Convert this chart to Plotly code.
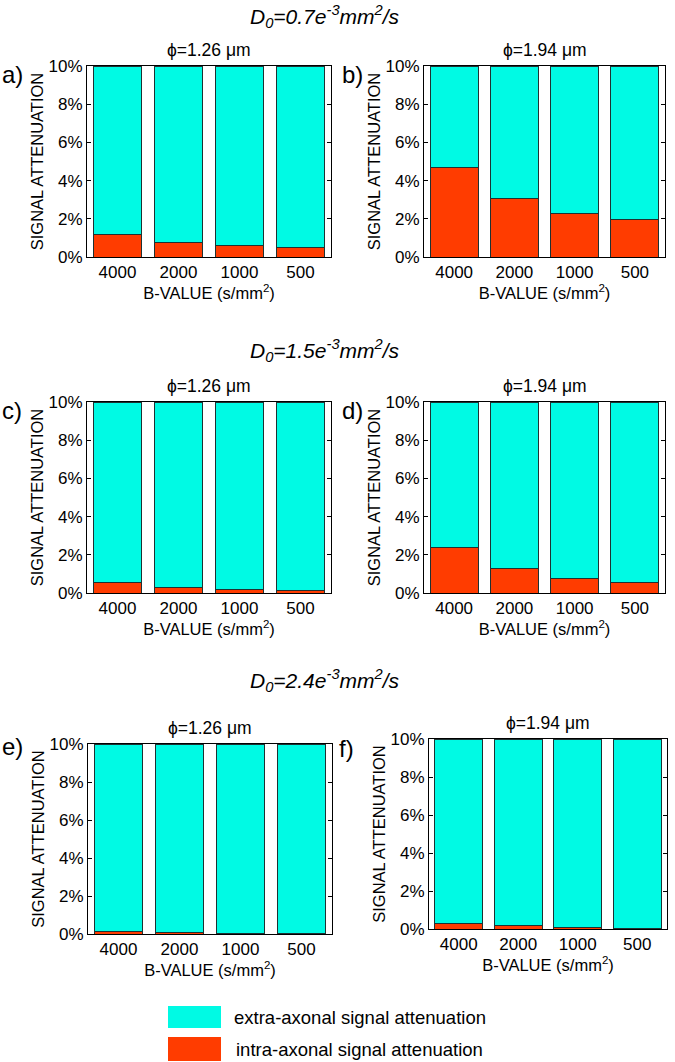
import plotly.graph_objects as go
from plotly.subplots import make_subplots

# b-values on the x axis
b_values = ["4000", "2000", "1000", "500"]

# intra-axonal part (red), % of signal
intra_a = [1.19, 0.77, 0.59, 0.51]
intra_b = [4.70, 3.04, 2.27, 1.95]
intra_c = [0.55, 0.29, 0.17, 0.14]
intra_d = [2.38, 1.27, 0.75, 0.55]
intra_e = [0.12, 0.06, 0.02, 0.01]
intra_f = [0.31, 0.16, 0.07, 0.03]

# extra-axonal part (cyan) visible up to the 10% ceiling
extra_a = [8.81, 9.23, 9.41, 9.49]
extra_b = [5.30, 6.96, 7.73, 8.05]
extra_c = [9.45, 9.71, 9.83, 9.86]
extra_d = [7.62, 8.73, 9.25, 9.45]
extra_e = [9.88, 9.94, 9.98, 9.99]
extra_f = [9.69, 9.84, 9.93, 9.97]

diameters = ["ϕ=1.26 μm", "ϕ=1.94 μm"]
d0_titles = [
    "<i>D<sub>0</sub>=0.7e<sup>-3</sup>mm<sup>2</sup>/s</i>",
    "<i>D<sub>0</sub>=1.5e<sup>-3</sup>mm<sup>2</sup>/s</i>",
    "<i>D<sub>0</sub>=2.4e<sup>-3</sup>mm<sup>2</sup>/s</i>",
]
panel_letters = ["a)", "b)", "c)", "d)", "e)", "f)"]

CYAN = "rgb(0,250,228)"
RED = "rgb(255,60,0)"
EDGE = "rgb(30,50,50)"
FONT = "Arial, Liberation Sans, sans-serif"

W, H = 675, 1062

# pixel boxes of each plot area: (left, right, top, bottom)
boxes = [
    (87, 331, 66, 257),
    (424, 665, 66, 257),
    (87, 331, 402, 593),
    (424, 665, 402, 593),
    (88, 332, 744, 934),
    (429, 667, 739, 929),
]

panels = [
    (intra_a, extra_a),
    (intra_b, extra_b),
    (intra_c, extra_c),
    (intra_d, extra_d),
    (intra_e, extra_e),
    (intra_f, extra_f),
]

fig = make_subplots(rows=3, cols=2)

for i, (intra, extra) in enumerate(panels):
    row, col = i // 2 + 1, i % 2 + 1
    fig.add_trace(
        go.Bar(
            x=b_values,
            y=intra,
            marker=dict(color=RED, line=dict(color=EDGE, width=1)),
            showlegend=False,
        ),
        row=row,
        col=col,
    )
    fig.add_trace(
        go.Bar(
            x=b_values,
            y=extra,
            marker=dict(color=CYAN, line=dict(color=EDGE, width=1)),
            showlegend=False,
        ),
        row=row,
        col=col,
    )

tick_font = dict(family=FONT, size=17, color="black")
title_font = dict(family=FONT, size=16.5, color="black")

for i, (l, r, t, b) in enumerate(boxes):
    suffix = "" if i == 0 else str(i + 1)
    fig.update_layout(
        {
            "xaxis" + suffix: dict(
                domain=[l / W, r / W],
                range=[-0.5, 3.5],
                showline=True,
                linecolor="black",
                linewidth=1,
                mirror=True,
                ticks="",
                tickfont=tick_font,
                title=dict(text="B-VALUE (s/mm<sup>2</sup>)", font=title_font, standoff=0),
                automargin=False,
            ),
            "yaxis" + suffix: dict(
                domain=[1 - b / H, 1 - t / H],
                range=[0, 10],
                tick0=0,
                dtick=2,
                ticksuffix="%",
                showline=True,
                linecolor="black",
                linewidth=1,
                mirror="allticks",
                ticks="inside",
                ticklen=4,
                tickcolor="black",
                showgrid=False,
                zeroline=False,
                tickfont=tick_font,
                title=dict(text="SIGNAL ATTENUATION", font=title_font, standoff=0),
                automargin=False,
            ),
        }
    )

annotations = []

# diameter titles above each plot
for i, (l, r, t, b) in enumerate(boxes):
    annotations.append(
        dict(
            text=diameters[i % 2],
            x=(l + r) / 2 / W,
            y=1 - (t - 4) / H,
            xref="paper",
            yref="paper",
            xanchor="center",
            yanchor="bottom",
            showarrow=False,
            font=dict(family=FONT, size=17.5, color="black"),
        )
    )

# D0 row titles
for yc, txt in zip([16, 350, 680], d0_titles):
    annotations.append(
        dict(
            text=txt,
            x=325 / W,
            y=1 - yc / H,
            xref="paper",
            yref="paper",
            xanchor="center",
            yanchor="middle",
            showarrow=False,
            font=dict(family=FONT, size=21, color="black"),
        )
    )

# panel letters
letter_pos = [(0, 74), (340, 74), (0, 410), (340, 410), (0, 746), (337, 748)]
for (lx, ly), txt in zip(letter_pos, panel_letters):
    annotations.append(
        dict(
            text=txt,
            x=lx / W,
            y=1 - ly / H,
            xref="paper",
            yref="paper",
            xanchor="left",
            yanchor="middle",
            showarrow=False,
            font=dict(family=FONT, size=24, color="black"),
        )
    )

# legend, drawn as boxes with labels
legend_items = [
    ("extra-axonal signal attenuation", CYAN, 1006, 1028, 232),
    ("intra-axonal signal attenuation", RED, 1037, 1061, 234),
]
shapes = []
for txt, colr, y0, y1, tx in legend_items:
    shapes.append(
        dict(
            type="rect",
            xref="paper",
            yref="paper",
            x0=168 / W,
            x1=221 / W,
            y0=1 - y1 / H,
            y1=1 - y0 / H,
            fillcolor=colr,
            line=dict(width=0),
        )
    )
    annotations.append(
        dict(
            text=txt,
            x=tx / W,
            y=1 - (y0 + y1) / 2 / H,
            xref="paper",
            yref="paper",
            xanchor="left",
            yanchor="middle",
            showarrow=False,
            font=dict(family=FONT, size=18.5, color="black"),
        )
    )

fig.update_layout(
    width=W,
    height=H,
    margin=dict(l=0, r=0, t=0, b=0),
    barmode="stack",
    bargap=0.2,
    paper_bgcolor="white",
    plot_bgcolor="white",
    annotations=annotations,
    shapes=shapes,
    showlegend=False,
)

fig.write_html(
    "out.html",
    config={"displayModeBar": False},
    post_script="document.body.style.margin='0px';",
)
